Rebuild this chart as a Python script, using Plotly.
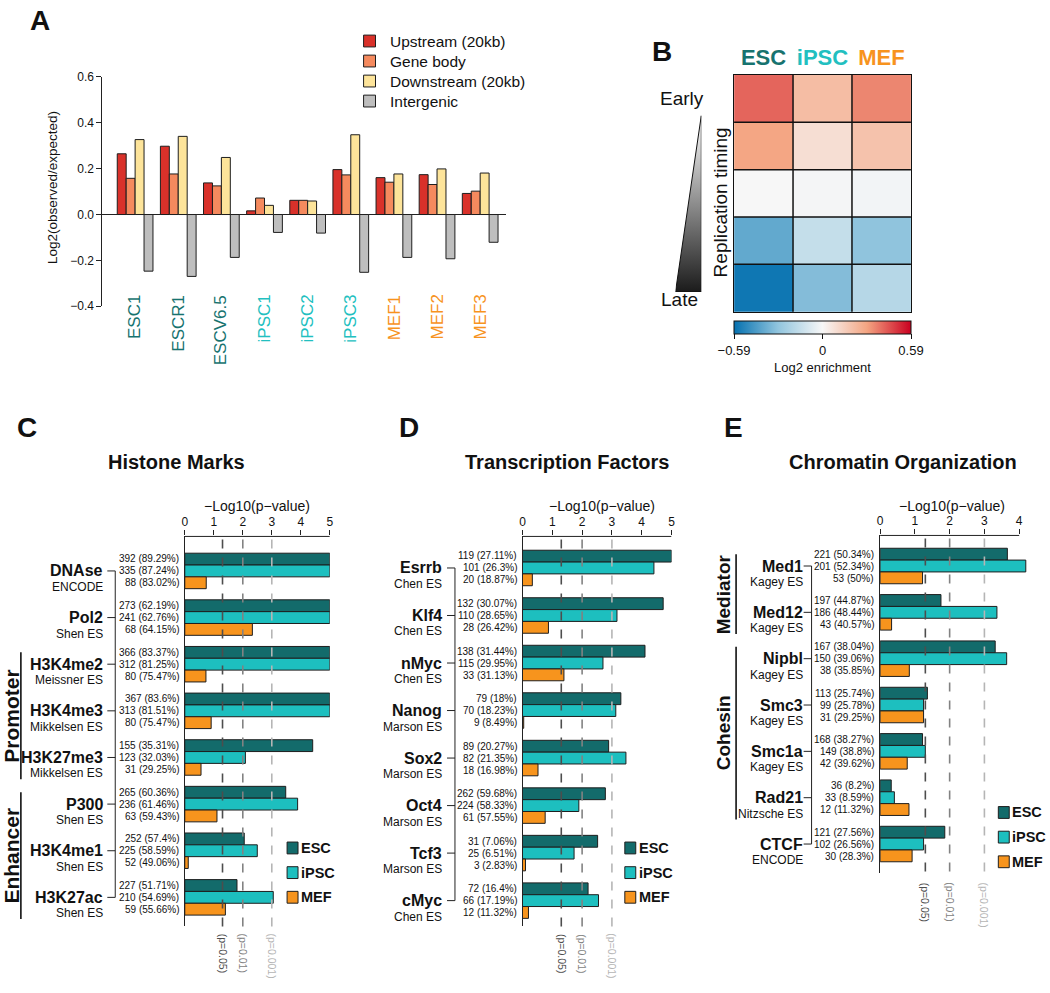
import plotly.graph_objects as go

# ---------------- data ----------------
# Panel A
a_samples = ["ESC1", "ESCR1", "ESCV6.5", "iPSC1", "iPSC2", "iPSC3", "MEF1", "MEF2", "MEF3"]
a_cell = ["ESC", "ESC", "ESC", "iPSC", "iPSC", "iPSC", "MEF", "MEF", "MEF"]
a_upstream = [0.265, 0.298, 0.138, 0.016, 0.062, 0.196, 0.161, 0.174, 0.092]
a_genebody = [0.158, 0.177, 0.125, 0.072, 0.062, 0.173, 0.141, 0.131, 0.102]
a_downstream = [0.327, 0.341, 0.249, 0.040, 0.059, 0.348, 0.177, 0.199, 0.181]
a_intergenic = [-0.247, -0.270, -0.187, -0.078, -0.081, -0.252, -0.187, -0.193, -0.121]
a_series_names = ["Upstream (20kb)", "Gene body", "Downstream (20kb)", "Intergenic"]
a_ticks = [-0.4, -0.2, 0.0, 0.2, 0.4, 0.6]
a_ticktext = ["\u22120.4", "\u22120.2", "0.0", "0.2", "0.4", "0.6"]

# Panel B
b_cells = ["ESC", "iPSC", "MEF"]
b_bins = ["Early", "bin2", "bin3", "bin4", "Late"]
b_z = [
    [0.41, 0.21, 0.35],
    [0.29, 0.09, 0.19],
    [0.00, -0.01, -0.015],
    [-0.395, -0.15, -0.30],
    [-0.57, -0.325, -0.19],
]
b_limit = 0.59

# Panel C
c_items = ["DNAse", "Pol2", "H3K4me2", "H3K4me3", "H3K27me3", "P300", "H3K4me1", "H3K27ac"]
c_source = ["ENCODE", "Shen ES", "Meissner ES", "Mikkelsen ES", "Mikkelsen ES", "Shen ES", "Shen ES", "Shen ES"]
c_esc = [5.0, 5.0, 5.0, 5.0, 4.41, 3.48, 2.05, 1.80]
c_ipsc = [5.0, 5.0, 5.0, 5.0, 2.09, 3.89, 2.50, 3.05]
c_mef = [0.74, 2.33, 0.73, 0.91, 0.56, 1.11, 0.12, 1.40]
c_esc_n = ["392 (89.29%)", "273 (62.19%)", "366 (83.37%)", "367 (83.6%)", "155 (35.31%)", "265 (60.36%)", "252 (57.4%)", "227 (51.71%)"]
c_ipsc_n = ["335 (87.24%)", "241 (62.76%)", "312 (81.25%)", "313 (81.51%)", "123 (32.03%)", "236 (61.46%)", "225 (58.59%)", "210 (54.69%)"]
c_mef_n = ["88 (83.02%)", "68 (64.15%)", "80 (75.47%)", "80 (75.47%)", "31 (29.25%)", "63 (59.43%)", "52 (49.06%)", "59 (55.66%)"]
c_groups = [("Promoter", 2, 4), ("Enhancer", 5, 7)]

# Panel D
d_items = ["Esrrb", "Klf4", "nMyc", "Nanog", "Sox2", "Oct4", "Tcf3", "cMyc"]
d_source = ["Chen ES", "Chen ES", "Chen ES", "Marson ES", "Marson ES", "Marson ES", "Marson ES", "Chen ES"]
d_esc = [5.0, 4.72, 4.11, 3.30, 2.89, 2.78, 2.52, 2.20]
d_ipsc = [4.41, 3.17, 2.70, 3.13, 3.47, 1.89, 1.73, 2.55]
d_mef = [0.33, 0.87, 1.39, 0.04, 0.52, 0.76, 0.10, 0.20]
d_esc_n = ["119 (27.11%)", "132 (30.07%)", "138 (31.44%)", "79 (18%)", "89 (20.27%)", "262 (59.68%)", "31 (7.06%)", "72 (16.4%)"]
d_ipsc_n = ["101 (26.3%)", "110 (28.65%)", "115 (29.95%)", "70 (18.23%)", "82 (21.35%)", "224 (58.33%)", "25 (6.51%)", "66 (17.19%)"]
d_mef_n = ["20 (18.87%)", "28 (26.42%)", "33 (31.13%)", "9 (8.49%)", "18 (16.98%)", "61 (57.55%)", "3 (2.83%)", "12 (11.32%)"]

# Panel E
e_items = ["Med1", "Med12", "Nipbl", "Smc3", "Smc1a", "Rad21", "CTCF"]
e_source = ["Kagey ES", "Kagey ES", "Kagey ES", "Kagey ES", "Kagey ES", "Nitzsche ES", "ENCODE"]
e_esc = [3.66, 1.75, 3.31, 1.36, 1.22, 0.32, 1.86]
e_ipsc = [4.19, 3.36, 3.64, 1.25, 1.30, 0.41, 1.25]
e_mef = [1.22, 0.33, 0.84, 1.25, 0.78, 0.83, 0.92]
e_esc_n = ["221 (50.34%)", "197 (44.87%)", "167 (38.04%)", "113 (25.74%)", "168 (38.27%)", "36 (8.2%)", "121 (27.56%)"]
e_ipsc_n = ["201 (52.34%)", "186 (48.44%)", "150 (39.06%)", "99 (25.78%)", "149 (38.8%)", "33 (8.59%)", "102 (26.56%)"]
e_mef_n = ["53 (50%)", "43 (40.57%)", "38 (35.85%)", "31 (29.25%)", "42 (39.62%)", "12 (11.32%)", "30 (28.3%)"]
e_groups = [("Mediator", 0, 1), ("Cohesin", 2, 5)]

cell_types = ["ESC", "iPSC", "MEF"]
thresholds = [(1.30103, "(p=0.05)", "#4d4d4d"), (2.0, "(p=0.01)", "#828282"), (3.0, "(p=0.001)", "#b5b5b5")]

# ---------------- helpers ----------------
W, H = 1050, 993
def px(x):
    return x / W
def py(y):
    return 1 - y / H

FONT = "Liberation Sans, Arial, Helvetica, sans-serif"
BAR_LINE = "#1e1e1e"
CELL_COLORS = {"ESC": "#136B6B", "iPSC": "#1DBFBF", "MEF": "#F7941D"}
LABEL_COLORS = {"ESC": "#17736F", "iPSC": "#22BFC0", "MEF": "#F7931E"}
A_COLORS = ["#D9312A", "#F58A5E", "#FDE49A", "#BEBEBE"]

fig = go.Figure()
ann = []
shp = []
axes = {}


def T(text, x, y, xref="paper", yref="paper", size=12, bold=False, color="#111111",
      xanchor="center", yanchor="middle", angle=0, yshift=0, xshift=0):
    if bold:
        text = "<b>" + text + "</b>"
    ann.append(dict(text=text, x=x, y=y, xref=xref, yref=yref, showarrow=False,
                    font=dict(size=size, color=color, family=FONT),
                    xanchor=xanchor, yanchor=yanchor, textangle=angle,
                    yshift=yshift, xshift=xshift, borderpad=0))


def L(x0, y0, x1, y1, xref="paper", yref="paper", color="#111111", width=1, dash="solid", layer="above"):
    shp.append(dict(type="line", x0=x0, y0=y0, x1=x1, y1=y1, xref=xref, yref=yref,
                    line=dict(color=color, width=width, dash=dash), layer=layer))


def legend_box(names, colors, left, top_center, step, w, h, text_gap, font_size, bold=False):
    # legend key squares + labels (positions given in pixels)
    for k, (nm, col) in enumerate(zip(names, colors)):
        cy = top_center + k * step
        shp.append(dict(type="rect", xref="paper", yref="paper",
                        x0=px(left), x1=px(left + w), y0=py(cy - h / 2), y1=py(cy + h / 2),
                        fillcolor=col, line=dict(color=BAR_LINE, width=1), layer="above"))
        T(nm, px(left + w + text_gap), py(cy), size=font_size, bold=bold, xanchor="left")


# ---------------- Panel A ----------------
series_a = [a_upstream, a_genebody, a_downstream, a_intergenic]
bw_a = 0.207
for k, vals in enumerate(series_a):
    fig.add_trace(go.Bar(x=a_samples, y=vals, name=a_series_names[k], width=bw_a,
                         offset=(k - len(series_a) / 2) * bw_a,
                         marker=dict(color=A_COLORS[k], line=dict(color=BAR_LINE, width=1)),
                         xaxis="x", yaxis="y", showlegend=False, hoverinfo="skip"))
axes["xaxis"] = dict(domain=[px(100), px(506)], range=[-0.76, 8.59], anchor="y",
                     showticklabels=False, showgrid=False, zeroline=False, showline=False, ticks="")
axes["yaxis"] = dict(domain=[py(303.5), py(71)], range=[-0.4, 0.6], anchor="x",
                     tickvals=a_ticks, ticktext=a_ticktext, tickfont=dict(size=12, color="#111"),
                     showline=True, linecolor="#222", linewidth=1, ticks="outside", ticklen=5,
                     tickcolor="#222", showgrid=False, zeroline=True, zerolinecolor="#222",
                     zerolinewidth=1)
for i, (s, c) in enumerate(zip(a_samples, a_cell)):
    T(s, i, py(291), xref="x", size=17, color=LABEL_COLORS[c], yanchor="top", angle=-90)
T("Log2(observed/expected)", px(50), py(183), size=13.5, angle=-90)
T("A", px(26), py(14), size=28, bold=True, xanchor="left")
legend_box(a_series_names, A_COLORS, left=363, top_center=34.5, step=20.3, w=12, h=12,
           text_gap=14, font_size=15.5)

# ---------------- Panel B ----------------
fig.add_trace(go.Heatmap(
    z=b_z, x=b_cells, y=b_bins, zmin=-b_limit, zmax=b_limit,
    colorscale=[[0, "#0571b0"], [0.25, "#92c5de"], [0.5, "#f7f7f7"], [0.75, "#f4a582"], [1, "#ca0020"]],
    xaxis="x2", yaxis="y2", hoverinfo="skip",
    colorbar=dict(orientation="h", x=px(825), xanchor="center", y=py(318), yanchor="top",
                  len=178 / W, lenmode="fraction", thickness=13, thicknessmode="pixels",
                  outlinewidth=1, outlinecolor="#111", xpad=0, ypad=0,
                  tickvals=[-b_limit, 0, b_limit], ticktext=["\u22120.59", "0", "0.59"],
                  ticks="outside", ticklen=5, tickcolor="#111",
                  tickfont=dict(size=13, color="#111", family=FONT),
                  title=dict(text="Log2 enrichment", side="bottom", font=dict(size=13, color="#111", family=FONT)))))
axes["xaxis2"] = dict(domain=[px(736), px(914)], anchor="y2", side="top", tickmode="array",
                      tickvals=b_cells,
                      ticktext=["<span style='color:%s'><b>%s</b></span>" % (LABEL_COLORS[c], c) for c in b_cells],
                      tickfont=dict(size=22), ticks="", showline=True, mirror=True,
                      linecolor="#111", linewidth=1.5, showgrid=False, zeroline=False)
axes["yaxis2"] = dict(domain=[py(309), py(69)], anchor="x2", autorange="reversed",
                      showticklabels=False, ticks="", showline=True, mirror=True,
                      linecolor="#111", linewidth=1.5, showgrid=False, zeroline=False)
for i in range(1, len(b_cells)):
    L(i - 0.5, 0, i - 0.5, 1, xref="x2", yref="y2 domain", width=1.5)
for j in range(1, len(b_bins)):
    L(0, j - 0.5, 1, j - 0.5, xref="x2 domain", yref="y2", width=1.5)

# gradient triangle (schematic)
fig.add_trace(go.Scatter(x=[1, 1, 0, 1], y=[1, 0, 0, 1], mode="lines", fill="toself",
                         fillgradient=dict(type="vertical", colorscale=[[0, "#1b1b1b"], [1, "#ffffff"]]),
                         line=dict(color="#111", width=1), xaxis="x6", yaxis="y6",
                         showlegend=False, hoverinfo="skip"))
axes["xaxis6"] = dict(domain=[px(677), px(703)], range=[0, 1], visible=False, anchor="y6")
axes["yaxis6"] = dict(domain=[py(289), py(110)], range=[0, 1], visible=False, anchor="x6")
T("Early", px(707), py(93), size=19, xanchor="right")
T("Late", px(701), py(297), size=19, xanchor="right")
T("Replication timing", px(722), py(198), size=19, angle=-90)
T("B", px(652), py(45), size=28, bold=True, xanchor="left")


# ---------------- Panels C, D, E ----------------
def hpanel(ax_id, items, sources, vals, counts, cfg):
    xa = "x%d" % ax_id
    ya = "y%d" % ax_id
    n = len(items)
    sp = cfg["sp"]
    bwu = 12.0 / sp
    for k, cell in enumerate(cell_types):
        fig.add_trace(go.Bar(y=items, x=vals[k], orientation="h", name=cell,
                             width=bwu, offset=(k - 1.5) * bwu,
                             marker=dict(color=CELL_COLORS[cell], line=dict(color=BAR_LINE, width=1)),
                             xaxis=xa, yaxis=ya, showlegend=False, hoverinfo="skip"))
    x0, ppu = cfg["x0"], cfg["ppu"]
    axes["xaxis%d" % ax_id] = dict(domain=[px(x0), px(x0 + ppu * cfg["xmax"])], range=[0, cfg["xmax"]],
                                   anchor=ya, side="top", tickvals=cfg["ticks"],
                                   tickfont=dict(size=12, color="#111"), ticks="outside", ticklen=5,
                                   tickcolor="#222", showline=False, showgrid=False, zeroline=False)
    axes["yaxis%d" % ax_id] = dict(domain=[py(cfg["ybot"]), py(cfg["ytop"])],
                                   range=[(cfg["ybot"] - cfg["c0"]) / sp, -(cfg["c0"] - cfg["ytop"]) / sp],
                                   anchor=xa, showticklabels=False, ticks="", showline=True,
                                   linecolor="#222", linewidth=1, showgrid=False, zeroline=False)
    # top axis line between first and last tick
    L(cfg["ticks"][0], py(cfg["ytop"]), cfg["ticks"][-1], py(cfg["ytop"]), xref=xa, color="#222")
    # significance lines
    for thr, lab, col in thresholds:
        L(thr, py(cfg["ytop"] + 3), thr, py(cfg["dbot"]), xref=xa, color=col, width=1.6, dash="dash")
        T(lab, thr, py(cfg["dbot"] + 3), xref=xa, size=10.5, color=col, yanchor="top", angle=90)
    # labels
    for i in range(n):
        T(items[i], px(cfg["namex"]), i, yref=ya, size=16, bold=True, xanchor="right")
        T(sources[i], px(cfg["namex"]), i, yref=ya, size=12, xanchor="right", yshift=-16)
        for k in range(3):
            T(counts[k][i], px(cfg["cntx"]), i, yref=ya, size=10, xanchor="right", yshift=(1 - k) * 12)
        L(px(cfg["brx"] - 8), i, px(cfg["brx"]), i, yref=ya, color="#222")
    L(px(cfg["brx"]), 0, px(cfg["brx"]), n - 1, yref=ya, color="#222")
    for lab, i0, i1 in cfg.get("groups", []):
        L(px(cfg["gx"]), py(cfg["c0"] + i0 * sp - 12), px(cfg["gx"]), py(cfg["c0"] + i1 * sp + 22), color="#111", width=1.6)
        T(lab, px(cfg["gtx"]), py(cfg["c0"] + (i0 + i1) / 2 * sp + 5), size=cfg["gsize"], bold=True, angle=-90)
    T(cfg["title"], px(cfg["tcx"]), py(462), size=20, bold=True)
    T("\u2212Log10(p\u2212value)", px(cfg["acx"]), py(506), size=14)
    T(cfg["letter"], px(cfg["lx"]), py(427), size=28, bold=True, xanchor="left")
    legend_box(cell_types, [CELL_COLORS[c] for c in cell_types], left=cfg["legx"], top_center=cfg["legy"],
               step=25, w=11, h=12, text_gap=2, font_size=14.5, bold=True)


cfgC = dict(x0=183, ppu=29.2, xmax=5, ticks=[0, 1, 2, 3, 4, 5], ytop=537, c0=572, sp=47.3, ybot=932,
            dbot=936, namex=102, cntx=178, brx=113, groups=c_groups, gx=18, gtx=9, gsize=21,
            title="Histone Marks", tcx=175, acx=256, letter="C", lx=13, legx=286, legy=853)
cfgD = dict(x0=523, ppu=30, xmax=5, ticks=[0, 1, 2, 3, 4, 5], ytop=537, c0=569, sp=48.2, ybot=932,
            dbot=936, namex=443, cntx=518, brx=455,
            title="Transcription Factors", tcx=568, acx=603, letter="D", lx=398, legx=626, legy=853)
cfgE = dict(x0=883, ppu=35, xmax=4.3, ticks=[0, 1, 2, 3, 4], ytop=536, c0=567, sp=47.0, ybot=878,
            dbot=884, namex=806, cntx=878, brx=814, groups=e_groups, gx=738, gtx=725, gsize=19,
            title="Chromatin Organization", tcx=906, acx=955, letter="E", lx=725, legx=1002, legy=817)

hpanel(3, c_items, c_source, [c_esc, c_ipsc, c_mef], [c_esc_n, c_ipsc_n, c_mef_n], cfgC)
hpanel(4, d_items, d_source, [d_esc, d_ipsc, d_mef], [d_esc_n, d_ipsc_n, d_mef_n], cfgD)
hpanel(5, e_items, e_source, [e_esc, e_ipsc, e_mef], [e_esc_n, e_ipsc_n, e_mef_n], cfgE)

fig.update_layout(
    width=W, height=H, margin=dict(l=0, r=0, t=0, b=0),
    paper_bgcolor="white", plot_bgcolor="white",
    font=dict(family=FONT, color="#111"),
    barmode="overlay", showlegend=False,
    annotations=ann, shapes=shp,
    **axes,
)

fig.write_html("out.html", config={"displayModeBar": False, "staticPlot": True},
               post_script="document.body.style.margin='0px';document.body.style.padding='0px';document.body.style.overflow='hidden';")
